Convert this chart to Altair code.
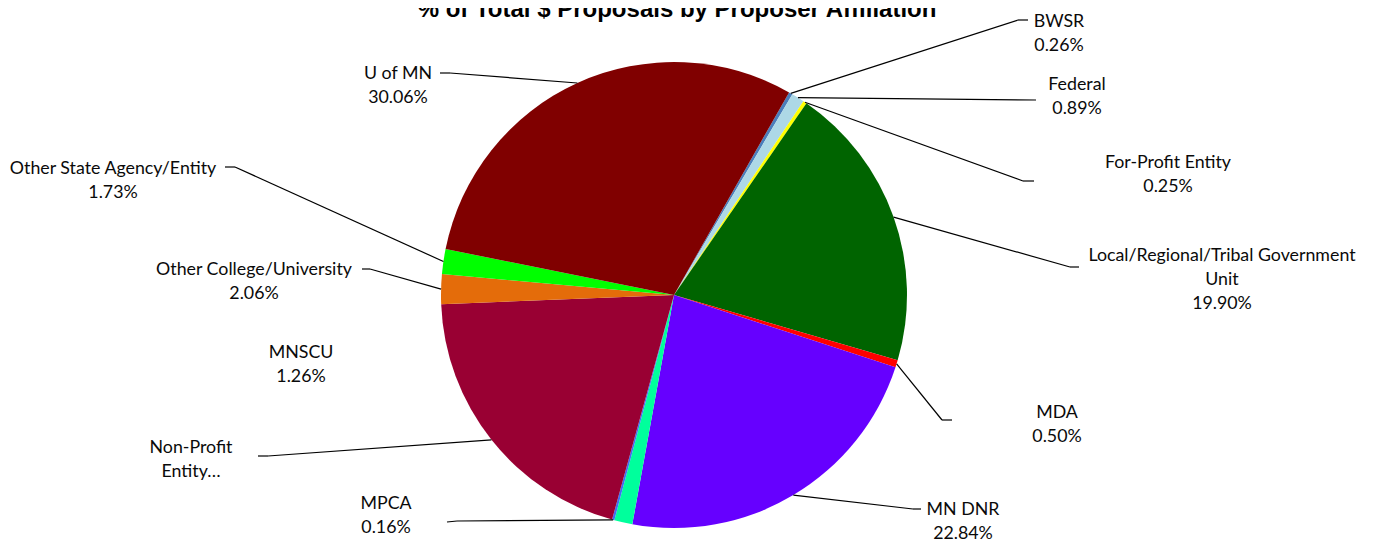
import math
import altair as alt
import pandas as pd

# ---------------- data ----------------
categories = [
    "BWSR", "Federal", "For-Profit Entity", "Local/Regional/Tribal Government Unit",
    "MDA", "MN DNR", "MNSCU", "MPCA", "Non-Profit Entity",
    "Other College/University", "Other State Agency/Entity", "U of MN",
]
shares = [0.26, 0.89, 0.25, 19.90, 0.50, 22.84, 1.26, 0.16, 20.09, 2.06, 1.73, 30.06]
name_lines = [
    ["BWSR"], ["Federal"], ["For-Profit Entity"], ["Local/Regional/Tribal Government", "Unit"],
    ["MDA"], ["MN DNR"], ["MNSCU"], ["MPCA"], ["Non-Profit", "Entity…"],
    ["Other College/University"], ["Other State Agency/Entity"], ["U of MN"],
]
show_pct = [True, True, True, True, True, True, True, True, False, True, True, True]
title_text = "% of Total $ Proposals by Proposer Affiliation"

# ---------------- styles / layout ----------------
colors = [
    "#4A7EBB", "#ADD8E6", "#FFFF00", "#006400", "#FF0000", "#6600FF",
    "#00FF9C", "#3F6FF0", "#990033", "#E46C0A", "#00FF00", "#800000",
]
M = 8  # page margin
W, H = 1366, 535
CX, CY, R = 674 - M, 295 - M, 233
START_DEG = 29.6
LINE_H = 24
FONT = "Lato"
FS = 17.8
TEXT_DY = 1.5

# label anchor (page coords: centre x, first-line centre y)
label_pos = [
    (1059, 20), (1077, 83), (1168, 161), (1222, 254), (1057, 411), (963, 508),
    (301, 351), (386, 502), (191, 446), (254, 268), (113, 167), (398, 72),
]
# leader: (elbow, end) in page coords, or None
leaders = [
    ((1018, 20), (1028, 20)),
    ((1036, 100), (1036, 100)),
    ((1023, 181), (1034, 181)),
    ((1070, 267), (1079, 267)),
    ((942, 420), (952, 420)),
    ((913, 509), (921, 509)),
    None,
    ((457, 521), (447, 522)),
    ((268, 456), (258, 456)),
    ((370, 269), (362, 269)),
    ((235, 167), (225, 167)),
    ((450, 73), (440, 73)),
]

# ---------------- tables ----------------
pie_df = pd.DataFrame({"category": categories, "share": shares, "order": list(range(len(categories)))})
total = sum(shares)

text_rows = []
seg_rows = []
cum = 0.0
for i, cat in enumerate(categories):
    v = shares[i]
    mid = math.radians(START_DEG + 360.0 * (cum + v / 2.0) / total)
    cum += v
    px = CX + R * math.sin(mid)
    py = CY - R * math.cos(mid)
    lines = list(name_lines[i])
    if show_pct[i]:
        lines.append(f"{v:.2f}%")
    lx, ly = label_pos[i]
    for j, t in enumerate(lines):
        text_rows.append({"x": lx - M, "y": ly - M + TEXT_DY + j * LINE_H, "t": t})
    if leaders[i] is not None:
        (ex, ey), (nx, ny) = leaders[i]
        seg_rows.append({"x": px, "y": py, "x2": ex - M, "y2": ey - M})
        if (ex, ey) != (nx, ny):
            seg_rows.append({"x": ex - M, "y": ey - M, "x2": nx - M, "y2": ny - M})

text_df = pd.DataFrame(text_rows)
seg_df = pd.DataFrame(seg_rows)
title_df = pd.DataFrame({"x": [677 - M], "y": [17 - M], "t": [title_text]})

theta_range = [math.radians(START_DEG), math.radians(START_DEG) + 2 * math.pi]

pie = alt.Chart(pie_df).mark_arc(outerRadius=R).encode(
    theta=alt.Theta("share:Q", stack=True, scale=alt.Scale(range=theta_range)),
    color=alt.Color("category:N", scale=alt.Scale(domain=categories, range=colors), legend=None),
    order=alt.Order("order:Q"),
    x=alt.value(CX),
    y=alt.value(CY),
)

rules = alt.Chart(seg_df).mark_rule(color="#000000", strokeWidth=1.2).encode(
    x=alt.X("x:Q", scale=None, axis=None),
    y=alt.Y("y:Q", scale=None, axis=None),
    x2="x2:Q",
    y2="y2:Q",
)

labels = alt.Chart(text_df).mark_text(
    font=FONT, fontSize=FS, color="#0A0A0A", align="center", baseline="middle"
).encode(
    x=alt.X("x:Q", scale=None, axis=None),
    y=alt.Y("y:Q", scale=None, axis=None),
    text="t:N",
)

title = alt.Chart(title_df).mark_text(
    font="Liberation Sans", fontSize=24, fontWeight="bold", color="#000000",
    align="center", baseline="alphabetic"
).encode(
    x=alt.X("x:Q", scale=None, axis=None),
    y=alt.Y("y:Q", scale=None, axis=None),
    text="t:N",
)

chart = alt.layer(pie, rules, labels, title).properties(
    width=W, height=H,
    autosize=alt.AutoSizeParams(type="none"),
    padding=0,
).configure_view(stroke=None)

chart.save("out.html", embed_options={"renderer": "svg", "actions": False})
